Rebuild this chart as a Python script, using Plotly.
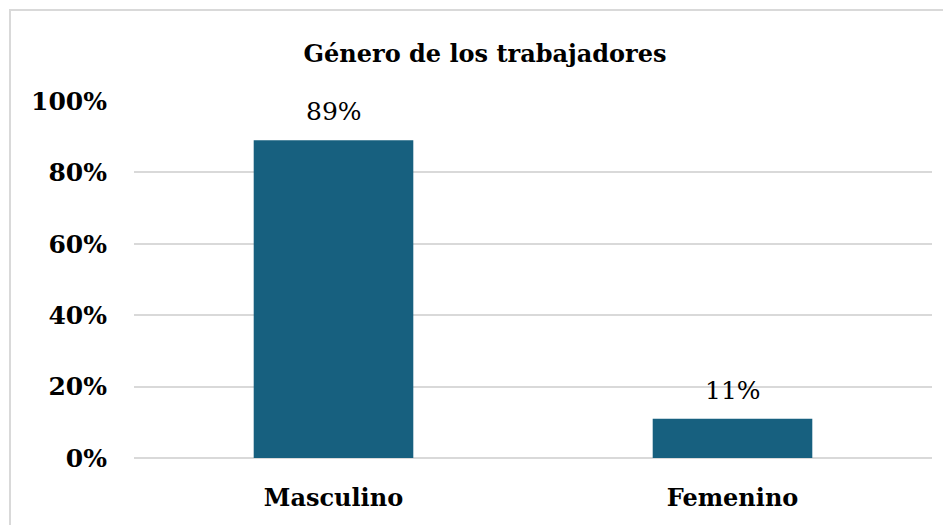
import plotly.graph_objects as go

categories = ["Masculino", "Femenino"]
values = [0.89, 0.11]
value_labels = ["89%", "11%"]
y_ticks = [0, 0.2, 0.4, 0.6, 0.8, 1.0]
y_tick_labels = ["0%", "20%", "40%", "60%", "80%", "100%"]

FONT = "DejaVu Serif"
BAR = "#17607F"
GRID = "#D9D9D9"

W, H = 943, 517
L, R, T, B = 126, 19, 93, 67
PW = W - L - R
PH = H - T - B

fig = go.Figure()
fig.add_trace(go.Bar(x=categories, y=values, marker=dict(color=BAR, line=dict(width=0)),
                     width=0.4, hoverinfo="skip"))

for c, v, t in zip(categories, values, value_labels):
    fig.add_annotation(x=c, y=v, text=t, showarrow=False, yanchor="bottom", yshift=12,
                       font=dict(family=FONT, size=25, color="#000000"))

fig.update_layout(
    width=W, height=H,
    margin=dict(l=L, r=R, t=T, b=B),
    paper_bgcolor="white", plot_bgcolor="white",
    showlegend=False,
    title=dict(text="<b>Género de los trabajadores</b>", x=477 / W, xref="container", xanchor="center",
               y=1 - 46 / H, yref="container", yanchor="middle",
               font=dict(family=FONT, size=24, color="#000000")),
    xaxis=dict(showgrid=False, showline=False, zeroline=False, ticks="",
               tickfont=dict(family=FONT, size=24, color="#000000"),
               ticklabelstandoff=23),
    yaxis=dict(range=[0, 1.0], tickvals=y_ticks, ticktext=["<b>%s</b>" % s for s in y_tick_labels],
               showgrid=True, gridcolor=GRID, gridwidth=1.5, zeroline=True, zerolinecolor=GRID,
               zerolinewidth=1.5, showline=False, ticks="",
               tickfont=dict(family=FONT, size=25, color="#000000"),
               ticklabelstandoff=26),
)
fig.update_xaxes(ticktext=["<b>%s</b>" % c for c in categories], tickvals=categories)

fig.add_shape(type="rect", xref="paper", yref="paper",
              x0=(2 - L) / PW, x1=(942.5 - L) / PW,
              y0=(H - B - (H + 10)) / PH, y1=(H - B - 2) / PH,
              line=dict(color=GRID, width=2), fillcolor="rgba(0,0,0,0)", layer="below")

fig.write_html("out.html")
